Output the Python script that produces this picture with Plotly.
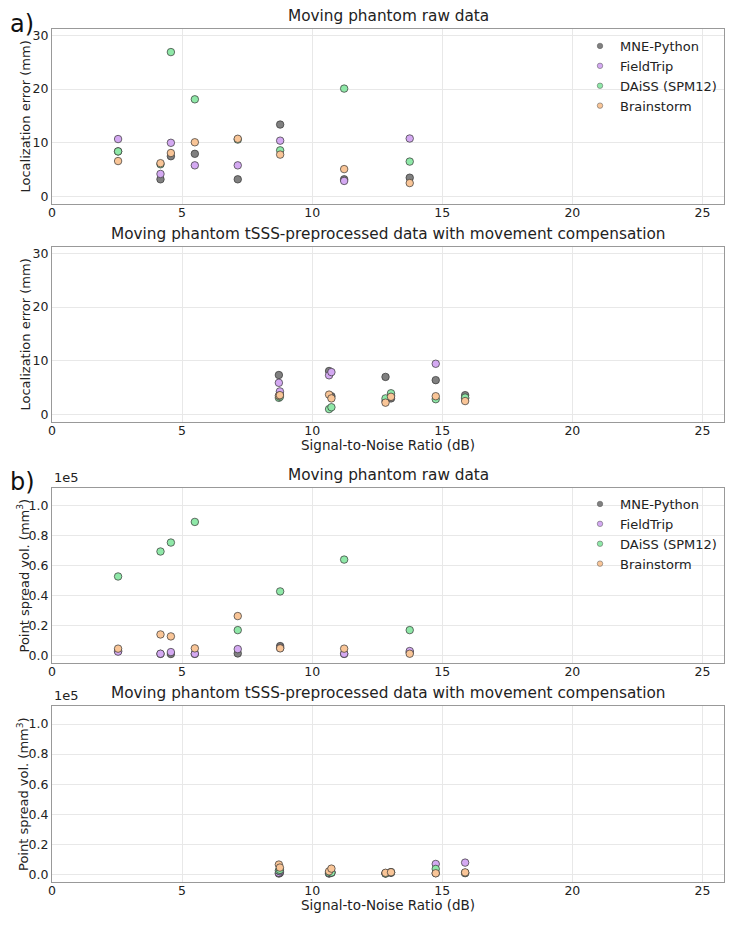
import plotly.graph_objects as go

# SNR (dB) of each dipole condition
snr_raw = [2.54, 4.17, 4.57, 5.49, 7.14, 8.77, 11.23, 13.75]
snr_tsss = [8.72, 8.76, 10.65, 10.74, 12.82, 13.03, 14.75, 15.88]

# localization error (mm), raw data
loc_raw_mne = [8.4, 3.2, 7.5, 7.95, 3.2, 13.4, 3.2, 3.5]
loc_raw_ft = [10.7, 4.2, 10.0, 5.8, 5.8, 10.4, 2.9, 10.8]
loc_raw_daiss = [8.4, 6.0, 26.9, 18.1, 10.6, 8.6, 20.1, 6.5]
loc_raw_bst = [6.6, 6.2, 8.1, 10.1, 10.75, 7.8, 5.1, 2.5]

# localization error (mm), tSSS data
loc_tsss_mne = [7.35, 3.8, 8.1, 3.4, 7.0, 3.0, 6.4, 3.6]
loc_tsss_ft = [5.9, 4.3, 7.3, 7.9, 2.5, 3.5, 9.45, 3.0]
loc_tsss_daiss = [3.1, 3.3, 1.0, 1.35, 3.0, 3.95, 2.85, 3.15]
loc_tsss_bst = [3.5, 3.6, 3.7, 3.0, 2.2, 3.3, 3.4, 2.5]

# point spread volume (mm^3), raw data
psv_raw_mne = [3000, 1000, 900, 1000, 1300, 6200, 1000, 2000]
psv_raw_ft = [2500, 1100, 2200, 1100, 4200, 5000, 1100, 2900]
psv_raw_daiss = [52800, 69500, 75500, 89300, 16900, 42800, 64100, 16900]
psv_raw_bst = [4500, 14000, 12700, 4700, 26300, 4700, 4500, 1100]

# point spread volume (mm^3), tSSS data
psv_tsss_mne = [500, 1000, 500, 1000, 500, 1500, 800, 800]
psv_tsss_ft = [1000, 2000, 800, 1500, 800, 1000, 6900, 7800]
psv_tsss_daiss = [2500, 3000, 1000, 1200, 600, 1200, 3600, 1000]
psv_tsss_bst = [6500, 4500, 2000, 3800, 1000, 1400, 700, 1300]

names = ['MNE-Python', 'FieldTrip', 'DAiSS (SPM12)', 'Brainstorm']
colors = ['#808080', '#d4a9f2', '#8fe8a8', '#f9c597']

panels = [
    (snr_raw, [loc_raw_mne, loc_raw_ft, loc_raw_daiss, loc_raw_bst], 'legend'),
    (snr_tsss, [loc_tsss_mne, loc_tsss_ft, loc_tsss_daiss, loc_tsss_bst], None),
    (snr_raw, [psv_raw_mne, psv_raw_ft, psv_raw_daiss, psv_raw_bst], 'legend2'),
    (snr_tsss, [psv_tsss_mne, psv_tsss_ft, psv_tsss_daiss, psv_tsss_bst], None),
]

# page body has an 8px margin, so the figure is made smaller and shifted
OFF = 8
W, H = 738 - OFF, 925 - OFF
font = 'DejaVu Sans, sans-serif'
txt = '#222222'


def px_x(p):
    return (p - OFF) / W


def px_y(p):
    return 1 - (p - OFF) / H


# plot areas in page pixels (top, bottom)
boxes = [(29, 204), (247, 422), (488, 663), (706, 882)]
x0, x1 = 52, 724

fig = go.Figure()
for i, (snr, series, leg) in enumerate(panels):
    ax = '' if i == 0 else str(i + 1)
    for name, color, vals in zip(names, colors, series):
        fig.add_trace(go.Scatter(
            x=snr, y=vals, mode='markers', name=name,
            xaxis='x' + ax, yaxis='y' + ax, showlegend=False,
            marker=dict(size=7.5, color=color, line=dict(width=0.7, color='#333333')),
        ))
        if leg:
            # small legend-only marker
            fig.add_trace(go.Scatter(
                x=[None], y=[None], mode='markers', name=name, legend=leg,
                xaxis='x' + ax, yaxis='y' + ax,
                marker=dict(size=5.5, color=color, line=dict(width=0.5, color='#555555')),
            ))

axis_style = dict(showline=True, linecolor='#999999', linewidth=1, mirror=True,
                  showgrid=True, gridcolor='#e8e8e8', zeroline=False, ticks='',
                  automargin=False,
                  tickfont=dict(family=font, size=12.5, color=txt))

layout = {}
for i, (top, bot) in enumerate(boxes):
    ax = '' if i == 0 else str(i + 1)
    layout['xaxis' + ax] = dict(axis_style, domain=[px_x(x0), px_x(x1)], range=[0, 25.83],
                                tickvals=[0, 5, 10, 15, 20, 25], anchor='y' + ax,
                                ticklabelstandoff=-3)
    if i < 2:
        yax = dict(range=[-1.4, 31.2], tickvals=[0, 10, 20, 30])
    else:
        yax = dict(range=[-5100, 112000], tickvals=[0, 20000, 40000, 60000, 80000, 100000],
                   ticktext=['0.0', '0.2', '0.4', '0.6', '0.8', '1.0'])
    layout['yaxis' + ax] = dict(axis_style, domain=[px_y(bot), px_y(top)], anchor='x' + ax, **yax)

fig.update_layout(**layout)

titles = ['Moving phantom raw data',
          'Moving phantom tSSS-preprocessed data with movement compensation',
          'Moving phantom raw data',
          'Moving phantom tSSS-preprocessed data with movement compensation']
ytitles = ['Localization error (mm)', 'Localization error (mm)',
           'Point spread vol. (mm<sup>3</sup>)', 'Point spread vol. (mm<sup>3</sup>)']
for i, (t, yt, (top, bot)) in enumerate(zip(titles, ytitles, boxes)):
    fig.add_annotation(text=t, x=px_x((x0 + x1) / 2), y=px_y(top - 2), xref='paper', yref='paper',
                       xanchor='center', yanchor='bottom', showarrow=False,
                       font=dict(family=font, size=15.3, color=txt))
    fig.add_annotation(text=yt, x=px_x(25 if i < 2 else 23), y=px_y((top + bot) / 2),
                       xref='paper', yref='paper', textangle=-90,
                       xanchor='center', yanchor='middle', showarrow=False,
                       font=dict(family=font, size=13, color=txt))
    if i % 2 == 1:
        fig.add_annotation(text='Signal-to-Noise Ratio (dB)', x=px_x((x0 + x1) / 2),
                           y=px_y(bot + 23), xref='paper', yref='paper',
                           xanchor='center', yanchor='middle', showarrow=False,
                           font=dict(family=font, size=13.5, color=txt))
# panel letters, kept clear of the top edge and of the first tick label
for lbl, y in [('a)', 8), ('b)', 466)]:
    fig.add_annotation(text=lbl, x=px_x(OFF), y=px_y(y), xref='paper', yref='paper',
                       xanchor='left', yanchor='top', showarrow=False,
                       font=dict(family=font, size=24, color='#111111'))
for top, bot in boxes[2:]:
    fig.add_annotation(text='1e5', x=px_x(x0), y=px_y(top - 1), xref='paper', yref='paper',
                       xanchor='left', yanchor='bottom', showarrow=False,
                       font=dict(family=font, size=13, color=txt))

leg_style = dict(x=px_x(580), xanchor='left', yanchor='top', bgcolor='rgba(255,255,255,0)',
                 font=dict(family=font, size=13, color=txt), itemsizing='trace',
                 tracegroupgap=0)
fig.update_layout(
    width=W, height=H,
    margin=dict(l=0, r=0, t=0, b=0),
    paper_bgcolor='white', plot_bgcolor='white',
    legend=dict(leg_style, y=px_y(31)),
    legend2=dict(leg_style, y=px_y(489)),
)

fig.write_html('out.html')
